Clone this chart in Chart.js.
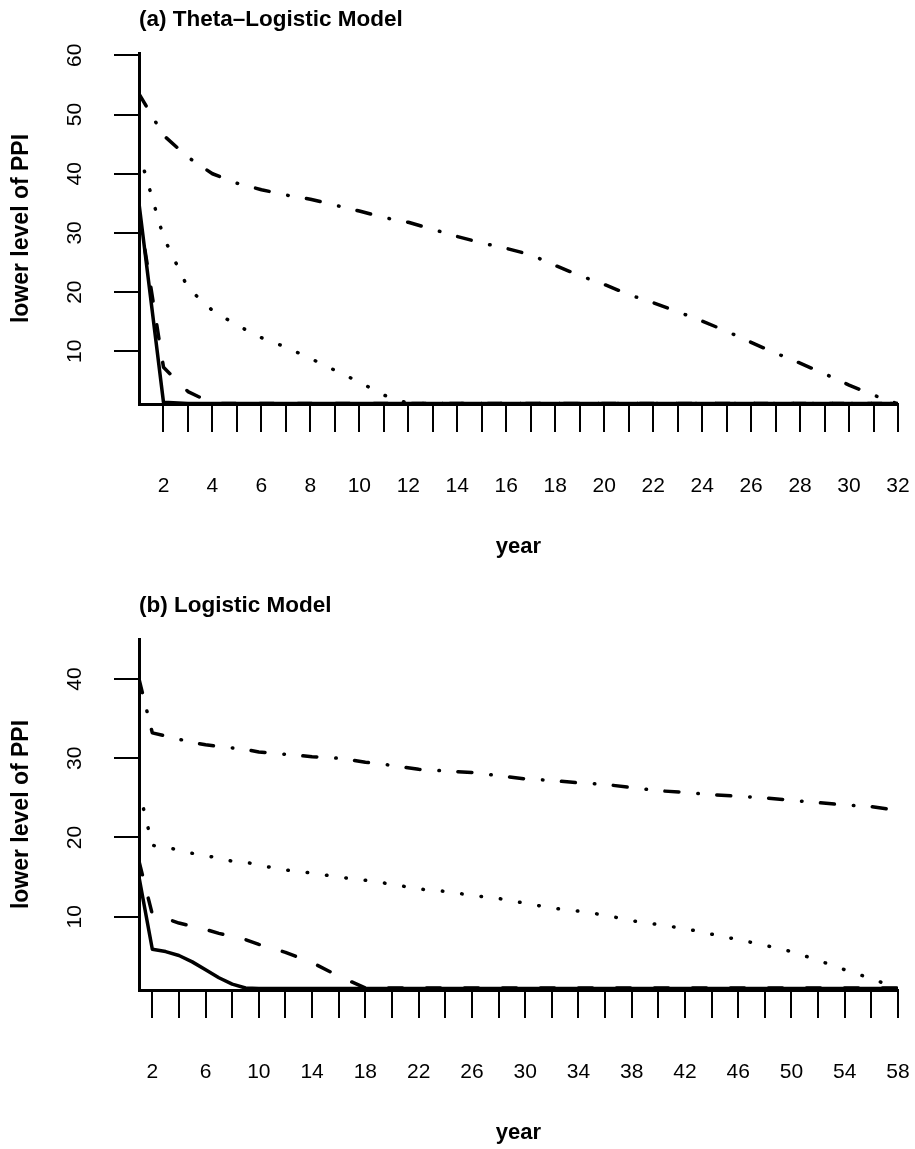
<!DOCTYPE html>
<html>
<head>
<meta charset="utf-8">
<title>lower level of PPI</title>
<script src="https://cdn.jsdelivr.net/npm/chart.js@4.4.1/dist/chart.umd.min.js"></script>
<style>
  html, body { margin: 0; padding: 0; background: #fff; overflow: hidden; }
  .panel { position: absolute; left: 0; width: 915px; height: 575px; }
  #panelA { top: 0; }
  #panelB { top: 586px; }
</style>
</head>
<body>
<div class="panel" id="panelA"><canvas id="chartA" width="915" height="575"></canvas></div>
<div class="panel" id="panelB"><canvas id="chartB" width="915" height="575"></canvas></div>
<script>
// (a) Theta-Logistic model, one value per year
const yearsA = [1, 2, 3, 4, 5, 6, 7, 8, 9, 10, 11, 12, 13, 14, 15, 16,
                17, 18, 19, 20, 21, 22, 23, 24, 25, 26, 27, 28, 29, 30, 31, 32];
const solidA = [35, 1.4, 1.2, 1.2, 1.2, 1.2, 1.2, 1.2, 1.2, 1.2, 1.2, 1.2, 1.2, 1.2, 1.2, 1.2,
                1.2, 1.2, 1.2, 1.2, 1.2, 1.2, 1.2, 1.2, 1.2, 1.2, 1.2, 1.2, 1.2, 1.2, 1.2, 1.2];
const dashedA = [33.5, 7.3, 3.2, 1.2, 1.2, 1.2, 1.2, 1.2, 1.2, 1.2, 1.2, 1.2, 1.2, 1.2, 1.2, 1.2,
                 1.2, 1.2, 1.2, 1.2, 1.2, 1.2, 1.2, 1.2, 1.2, 1.2, 1.2, 1.2, 1.2, 1.2, 1.2, 1.2];
const dottedA = [43.6, 29.3, 20.7, 16.9, 14.4, 12.3, 10.7, 8.8, 6.8, 4.8, 2.6, 1.2, 1.2, 1.2, 1.2, 1.2,
                 1.2, 1.2, 1.2, 1.2, 1.2, 1.2, 1.2, 1.2, 1.2, 1.2, 1.2, 1.2, 1.2, 1.2, 1.2, 1.2];
const dotdashA = [53.5, 46.5, 42.8, 40.0, 38.4, 37.3, 36.4, 35.7, 34.7, 33.7, 32.6, 31.8, 30.6, 29.4, 28.3, 27.4,
                  26.3, 24.5, 22.8, 21.3, 19.6, 18.2, 16.7, 15.1, 13.4, 11.5, 9.7, 8.0, 6.2, 4.3, 2.6, 1.1];
const xTicksA = [2, 3, 4, 5, 6, 7, 8, 9, 10, 11, 12, 13, 14, 15, 16, 17,
                 18, 19, 20, 21, 22, 23, 24, 25, 26, 27, 28, 29, 30, 31, 32];
const xLabelsA = [2, 4, 6, 8, 10, 12, 14, 16, 18, 20, 22, 24, 26, 28, 30, 32];
const yTicksA = [10, 20, 30, 40, 50, 60];

// (b) Logistic model
const yearsB = [1, 2, 3, 4, 5, 6, 7, 8, 9, 10, 12, 14, 16, 18, 20, 22, 24,
                26, 28, 30, 32, 34, 36, 38, 40, 42, 44, 46, 48, 50, 52, 54, 56, 58];
const solidB = [15, 5.9, 5.6, 5.1, 4.3, 3.3, 2.3, 1.5, 1.0, 0.95, 0.95, 0.95, 0.95, 0.95, 0.95, 0.95, 0.95,
                0.95, 0.95, 0.95, 0.95, 0.95, 0.95, 0.95, 0.95, 0.95, 0.95, 0.95, 0.95, 0.95, 0.95, 0.95, 0.95, 0.95];
const dashedB = [17, 10.3, 9.8, 9.2, 8.8, 8.4, 7.9, 7.5, 7.1, 6.5, 5.5, 4.2, 2.5, 1.0, 1.0, 1.0, 1.0,
                 1.0, 1.0, 1.0, 1.0, 1.0, 1.0, 1.0, 1.0, 1.0, 1.0, 1.0, 1.0, 1.0, 1.0, 1.0, 1.0, 1.0];
const dottedB = [26, 19.0, 18.8, 18.4, 18.0, 17.7, 17.4, 17.0, 16.9, 16.5, 15.9, 15.5, 15.0, 14.6, 14.1, 13.5, 13.2,
                 12.7, 12.3, 11.7, 11.1, 10.7, 10.2, 9.5, 9.0, 8.5, 7.8, 7.1, 6.4, 5.6, 4.5, 3.3, 2.2, 0.9];
const dotdashB = [40, 33.2, 32.8, 32.4, 32.0, 31.7, 31.5, 31.3, 31.1, 30.8, 30.5, 30.2, 30.0, 29.5, 29.1, 28.6, 28.4,
                  28.2, 27.8, 27.4, 27.2, 26.9, 26.7, 26.3, 25.9, 25.7, 25.4, 25.2, 25.0, 24.7, 24.4, 24.1, 23.9, 23.4];
const xTicksB = [2, 4, 6, 8, 10, 12, 14, 16, 18, 20, 22, 24, 26, 28, 30,
                 32, 34, 36, 38, 40, 42, 44, 46, 48, 50, 52, 54, 56, 58];
const xLabelsB = [2, 6, 10, 14, 18, 22, 26, 30, 34, 38, 42, 46, 50, 54, 58];
const yTicksB = [10, 20, 30, 40];

const FONT = "'Liberation Sans', Arial, sans-serif";

// R-like line types
const LINE_TYPES = {
  solid:   { borderDash: [] },
  dashed:  { borderDash: [14, 24] },
  dotted:  { borderDash: [0.5, 19] },
  dotdash: { borderDash: [0.5, 18.5, 14, 19], borderDashOffset: 19 }
};

function toPoints(xs, ys) {
  return xs.map((x, i) => ({ x: x, y: ys[i] }));
}

function drawPanel(canvasId, cfg) {
  const datasets = cfg.series.map(s => Object.assign({
    data: toPoints(cfg.years, s.values),
    borderColor: '#000',
    borderWidth: 3.5,
    borderCapStyle: 'round',
    borderJoinStyle: 'round',
    pointRadius: 0,
    tension: 0,
    fill: false
  }, LINE_TYPES[s.type]));

  return new Chart(document.getElementById(canvasId), {
    type: 'line',
    data: { datasets: datasets },
    options: {
      responsive: false,
      animation: false,
      devicePixelRatio: 1,
      layout: { padding: { left: 0, right: 17, top: 0, bottom: 0 } },
      plugins: {
        legend: { display: false },
        tooltip: { enabled: false },
        title: {
          display: true,
          text: cfg.title,
          align: 'start',
          fullSize: false,
          color: '#000',
          font: { family: FONT, size: 22.5, weight: 'bold', lineHeight: 1.2 },
          padding: { top: 6.5, bottom: 19.5 }
        }
      },
      scales: {
        x: {
          type: 'linear',
          min: cfg.xMin,
          max: cfg.xMax,
          afterBuildTicks: sc => { sc.ticks = cfg.xTicks.map(v => ({ value: v })); },
          afterFit: sc => {
            // fixed band under the plot; labels must not push the plot inwards
            sc.height = 171;
            sc.paddingLeft = 0;
            sc.paddingRight = 0;
          },
          grid: { drawOnChartArea: false, drawTicks: true, tickLength: 28, tickWidth: 2,
                  tickColor: '#000', color: '#000', lineWidth: 2 },
          border: { display: true, color: '#000', width: 3 },
          ticks: {
            autoSkip: false, minRotation: 0, maxRotation: 0, padding: 42, color: '#000',
            font: { family: FONT, size: 21 },
            callback: v => cfg.xLabels.includes(v) ? String(v) : ''
          },
          title: { display: true, text: 'year', color: '#000',
                   font: { family: FONT, size: 22, weight: 'bold', lineHeight: 1.2 },
                   padding: { top: 0, bottom: 15 } }
        },
        y: {
          type: 'linear',
          min: cfg.yMin,
          max: cfg.yMax,
          afterBuildTicks: sc => { sc.ticks = cfg.yTicks.map(v => ({ value: v })); },
          afterFit: sc => {
            sc.width = 139;
            sc.paddingTop = 0;
            sc.paddingBottom = 0;
          },
          grid: { drawOnChartArea: false, drawTicks: true, tickLength: 25, tickWidth: 2,
                  tickColor: '#000', color: '#000', lineWidth: 2 },
          border: { display: true, color: '#000', width: 3 },
          ticks: {
            minRotation: 90, maxRotation: 90, crossAlign: 'center', padding: 27, color: '#000',
            font: { family: FONT, size: 21 }
          },
          title: { display: true, text: 'lower level of PPI', color: '#000',
                   font: { family: FONT, size: 23, weight: 'bold', lineHeight: 1.2 },
                   padding: { top: 8, bottom: 0 } }
        }
      }
    }
  });
}

drawPanel('chartA', {
  title: '(a) Theta\u2013Logistic Model',
  years: yearsA,
  xMin: 1, xMax: 32, yMin: 1.1, yMax: 60.4,
  xTicks: xTicksA, xLabels: xLabelsA, yTicks: yTicksA,
  series: [
    { type: 'solid', values: solidA },
    { type: 'dashed', values: dashedA },
    { type: 'dotted', values: dottedA },
    { type: 'dotdash', values: dotdashA }
  ]
});

drawPanel('chartB', {
  title: '(b) Logistic Model',
  years: yearsB,
  xMin: 1, xMax: 58, yMin: 0.75, yMax: 45.05,
  xTicks: xTicksB, xLabels: xLabelsB, yTicks: yTicksB,
  series: [
    { type: 'solid', values: solidB },
    { type: 'dashed', values: dashedB },
    { type: 'dotted', values: dottedB },
    { type: 'dotdash', values: dotdashB }
  ]
});
</script>
</body>
</html>
